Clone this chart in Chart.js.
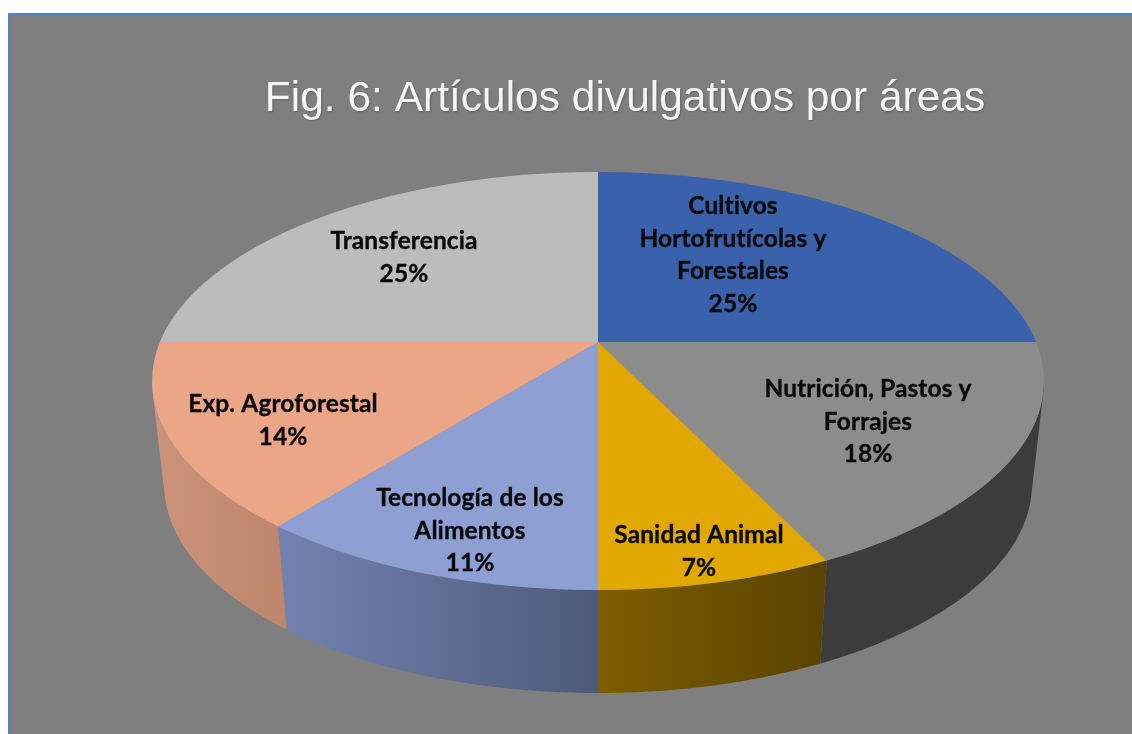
<!DOCTYPE html>
<html lang="es">
<head>
<meta charset="utf-8">
<title>Fig. 6</title>
<script src="https://cdn.jsdelivr.net/npm/chart.js@4"></script>
<style>
html,body{margin:0;padding:0;background:#fff;width:1132px;height:734px;overflow:hidden}
#panel{position:absolute;left:8px;top:13px;right:0;bottom:0;background:#7f7f7f;border-left:2px solid #5b7fc6;border-top:2px solid #5b7fc6}
#wrap{position:absolute;left:0;top:0;width:1132px;height:734px}
</style>
</head>
<body>
<div id="panel"></div>
<div id="wrap"><canvas id="c" width="1132" height="734"></canvas></div>
<script>
// Data
const chartTitle = 'Fig. 6: Artículos divulgativos por áreas';
const categories = ['Cultivos Hortofrutícolas y Forestales','Nutrición, Pastos y Forrajes','Sanidad Animal','Tecnología de los Alimentos','Exp. Agroforestal','Transferencia'];
const values = [7, 5, 2, 3, 4, 7];
const percentLabels = ['25%','18%','7%','11%','14%','25%'];

// Styles
const sliceColors = ['#3a62ac','#8c8c8c','#e0a800','#8e9fd3','#eba587','#bcbcbc'];
const wallStart  = ['#2a4a80','#3c3c3c','#7c5d00','#7283b2','#cc937b','#8c8c8c'];
const wallEnd    = ['#2a4a80','#3c3c3c','#5a4300','#4f5a78','#bd866b','#8c8c8c'];
const labelLines = [['Cultivos','Hortofrutícolas y','Forestales'],['Nutrición, Pastos y','Forrajes'],['Sanidad Animal'],['Tecnología de los','Alimentos'],['Exp. Agroforestal'],['Transferencia']];
const labelX    = [733, 868, 699, 470, 283, 404];
const labelTopY = [206, 389, 535, 498, 404, 241];
const LABEL_LH = 32.7;

// Perspective geometry of the pie
const K = 0.46;                 // vertical squash of the wedges around the apex
const RIM = {cx:598, cy:381, rx:446, ry:209};
const DEPTH = 103, SHRINK = 0.973;

function rimPoint(a, ox, oy){
  const dx = Math.cos(a), dy = K*Math.sin(a);
  const py = oy - RIM.cy, px = ox - RIM.cx;
  const A = dx*dx/(RIM.rx*RIM.rx) + dy*dy/(RIM.ry*RIM.ry);
  const B = 2*(px*dx/(RIM.rx*RIM.rx) + py*dy/(RIM.ry*RIM.ry));
  const C = px*px/(RIM.rx*RIM.rx) + py*py/(RIM.ry*RIM.ry) - 1;
  const t = (-B + Math.sqrt(B*B - 4*A*C))/(2*A);
  return {x: ox + t*dx, y: oy + t*dy};
}
const lower = (p, ox) => ({x: ox + (p.x-ox)*SHRINK, y: p.y + DEPTH});
const signedArea = q => q.reduce((s,a,i) => { const b = q[(i+1)%q.length]; return s + a.x*b.y - b.x*a.y; }, 0);

const pie3d = {
  id:'pie3d',
  afterLayout(chart){
    // the title sits right of the pie axis in the original
    if (chart.titleBlock){ chart.titleBlock.left += 54; }
  },
  beforeDraw(chart){
    const c = chart.ctx;
    c.shadowColor = 'rgba(0,0,0,0.22)'; c.shadowBlur = 2; c.shadowOffsetX = 1; c.shadowOffsetY = 1;
  },
  beforeDatasetsDraw(chart){
    const c = chart.ctx;
    c.shadowColor = 'transparent'; c.shadowBlur = 0; c.shadowOffsetX = 0; c.shadowOffsetY = 0;
    const arcs = chart.getDatasetMeta(0).data;
    arcs.forEach((arc, i) => {
      const p = arc.getProps(['x','y','startAngle','endAngle'], true);
      const N = 80, top = [];
      for (let s = 0; s <= N; s++){
        top.push(rimPoint(p.startAngle + (p.endAngle-p.startAngle)*s/N, p.x, p.y));
      }
      const bot = top.map(q => lower(q, p.x));
      const xs = top.concat(bot).map(q => q.x);
      const g = c.createLinearGradient(Math.min(...xs),0,Math.max(...xs),0);
      g.addColorStop(0, wallStart[i]); g.addColorStop(1, wallEnd[i]);
      c.beginPath();
      for (let s = 0; s < N; s++){
        // strips above the widest part of the rim are hidden behind the top face
        if (top[s].y < RIM.cy && top[s+1].y < RIM.cy) continue;
        let q = [top[s], top[s+1], bot[s+1], bot[s]];
        if (signedArea(q) < 0) q = q.reverse();
        q.forEach((v,j) => j ? c.lineTo(v.x, v.y) : c.moveTo(v.x, v.y));
        c.closePath();
      }
      c.fillStyle = g; c.fill('nonzero');
    });
  },
  beforeDatasetDraw(chart){
    const c = chart.ctx, a = chart.getDatasetMeta(0).data[0];
    c.save();
    c.beginPath();
    c.ellipse(RIM.cx, RIM.cy, RIM.rx, RIM.ry, 0, 0, Math.PI*2);
    c.clip();
    c.translate(a.x, a.y); c.scale(1, K); c.translate(-a.x, -a.y);
  },
  afterDatasetDraw(chart){ chart.ctx.restore(); },
  afterDatasetsDraw(chart){
    const c = chart.ctx;
    c.save();
    c.font = 'bold 24.5px Lato, "Open Sans", sans-serif';
    c.letterSpacing = '0.1px';
    c.fillStyle = '#0a0a0a'; c.strokeStyle = '#0a0a0a'; c.lineWidth = 0.35;
    c.textAlign = 'center'; c.textBaseline = 'middle';
    labelLines.forEach((lines,i) => {
      const rows = lines.concat(percentLabels[i]);
      rows.forEach((t,j) => {
        c.fillText(t, labelX[i], labelTopY[i] + j*LABEL_LH);
        c.strokeText(t, labelX[i], labelTopY[i] + j*LABEL_LH);
      });
    });
    c.restore();
  }
};

new Chart(document.getElementById('c'), {
  type:'pie',
  data:{ labels:categories, datasets:[{ data:values, backgroundColor:sliceColors, borderWidth:0, radius:700, clip:false }] },
  options:{
    responsive:false, animation:false,
    rotation:0,
    layout:{ padding:{left:64, bottom:175} },
    plugins:{
      legend:{display:false},
      tooltip:{enabled:false},
      title:{ display:true, text:chartTitle, color:'#f4f4f4',
        font:{family:'"Liberation Sans", Arial, sans-serif', size:42.5, weight:'normal', lineHeight:1.2},
        padding:{top:74, bottom:0} }
    }
  },
  plugins:[pie3d]
});
</script>
</body>
</html>
